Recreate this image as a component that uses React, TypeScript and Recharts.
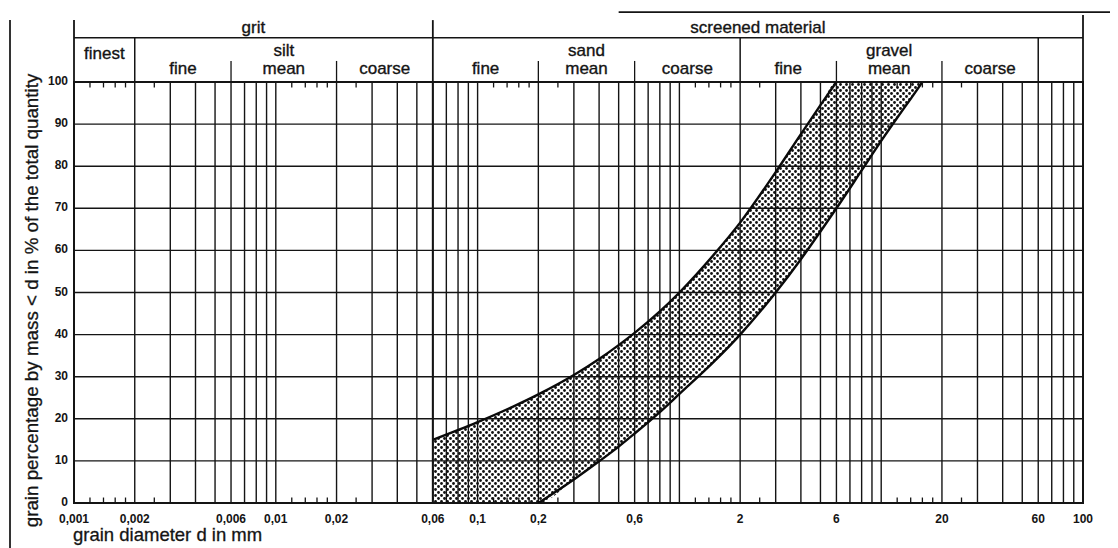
import React from 'react';
import {
  ComposedChart,
  Area,
  Line,
  XAxis,
  YAxis,
  CartesianGrid,
  ReferenceLine,
  ReferenceDot,
  ReferenceArea,
} from 'recharts';

// ---------- data ----------
// upper (fine-side) boundary of the grading band: grain diameter d [mm] -> % passing
const upperD = [0.06, 0.1, 0.15, 0.2, 0.3, 0.4, 0.5, 0.6, 0.8, 1, 1.5, 2, 3, 4, 5, 6];
const upperPct = [15, 19.2, 22.9, 25.8, 30.4, 34.2, 37.5, 40.4, 45.5, 50, 59.3, 66.6, 78.6, 87.6, 94.5, 100];

// lower (coarse-side) boundary of the grading band
const lowerD = [0.2, 0.3, 0.4, 0.5, 0.6, 0.8, 1, 1.5, 2, 3, 4, 5, 6, 8, 10, 12, 14, 16];
const lowerPct = [0, 5.6, 9.9, 13.4, 16.5, 21.6, 25.9, 33.8, 40, 50, 57.9, 64.5, 70, 79, 86, 91.5, 96, 100];

// axes
const xTickLabels = [0.001, 0.002, 0.006, 0.01, 0.02, 0.06, 0.1, 0.2, 0.6, 2, 6, 20, 60, 100];
const yTicks = [0, 10, 20, 30, 40, 50, 60, 70, 80, 90, 100];
const decades = [0.001, 0.01, 0.1, 1, 10];
const gridMultipliers = [1, 2, 3, 4, 5, 6, 7, 8, 9];
const shortTickMultipliers = [1.2, 1.4, 1.6, 1.8, 2.5];

// header (classification of grain sizes)
const headerGroups = [
  { label: 'grit', from: 0.001, to: 0.06 },
  { label: 'screened material', from: 0.06, to: 100 },
];
const headerClasses = [
  { label: 'finest', from: 0.001, to: 0.002 },
  { label: 'silt', from: 0.006, to: 0.02 },
  { label: 'sand', from: 0.2, to: 0.6 },
  { label: 'gravel', from: 6, to: 20 },
];
const headerSubs = [
  { label: 'fine', from: 0.002, to: 0.006 },
  { label: 'mean', from: 0.006, to: 0.02 },
  { label: 'coarse', from: 0.02, to: 0.06 },
  { label: 'fine', from: 0.06, to: 0.2 },
  { label: 'mean', from: 0.2, to: 0.6 },
  { label: 'coarse', from: 0.6, to: 2 },
  { label: 'fine', from: 2, to: 6 },
  { label: 'mean', from: 6, to: 20 },
  { label: 'coarse', from: 20, to: 60 },
];
const fullDividers = [0.002, 2, 60];
const shortDividers = [0.006, 0.02, 0.2, 0.6, 6, 20];
const frameVerticals = [
  { d: 0.001, top: 114.7 },
  { d: 0.06, top: 114.7 },
  { d: 100, top: 115.9 },
];

// header levels, expressed on the % scale (above 100 = above the plot)
const GROUP_LABEL_Y = 113.0;
const GROUP_LINE_Y = 110.5;
const CLASS_LABEL_Y = 107.4;
const FINEST_LABEL_Y = 106.7;
const SUB_LABEL_Y = 103.1;
const SHORT_DIVIDER_TOP = 105;
const OVERLINE_Y = 116.6;
const OVERLINE_FROM = 0.5;
const OVERLINE_TO = 150;

// ---------- helpers ----------
const FONT = '"Liberation Sans", Arial, Helvetica, sans-serif';
const INK = '#141414';
const clean = (v: number) => parseFloat(v.toPrecision(6));
const gridValues = [...decades.flatMap((d) => gridMultipliers.map((m) => clean(m * d))), 100];
const shortTicks = decades.flatMap((d) => shortTickMultipliers.map((m) => clean(m * d)));
const isLabeled = (v: number) => xTickLabels.some((t) => Math.abs(Math.log10(t / v)) < 1e-6);
const fmt = (v: number) => String(v).replace('.', ',');
const geo = (a: number, b: number) => Math.sqrt(a * b);

const lowerAt = (d: number) => {
  const i = lowerD.findIndex((x) => Math.abs(x - d) < 1e-9);
  return i >= 0 ? lowerPct[i] : d < lowerD[0] ? 0 : 100;
};
const upperAt = (d: number) => {
  const i = upperD.findIndex((x) => Math.abs(x - d) < 1e-9);
  return i >= 0 ? upperPct[i] : d > upperD[upperD.length - 1] ? 100 : 0;
};
const bandD = Array.from(new Set([...upperD, ...lowerD])).sort((a, b) => a - b);
const bandData = bandD.map((d) => ({ d, band: [lowerAt(d), upperAt(d)] }));
const upperData = upperD.map((d, i) => ({ d, pct: upperPct[i] }));
const lowerData = lowerD.map((d, i) => ({ d, pct: lowerPct[i] }));

const XTick = (props: any) => {
  const { x, y, payload } = props;
  if (!isLabeled(payload.value)) return <g />;
  return (
    <text x={x} y={y + 20} textAnchor="middle" fontFamily={FONT} fontWeight="bold" fontSize={12} fill={INK}>
      {fmt(payload.value)}
    </text>
  );
};
const YTickLeft = (props: any) => {
  const { x, y, payload } = props;
  return (
    <text x={x - 6} y={y + 3} textAnchor="end" fontFamily={FONT} fontWeight="bold" fontSize={12} fill={INK}>
      {payload.value}
    </text>
  );
};
const YTickRight = (props: any) => {
  const { x, y, payload } = props;
  return (
    <text x={x + 18} y={y + 6} textAnchor="middle" fontFamily={FONT} fontWeight="bold" fontSize={12} fill={INK}>
      {payload.value}
    </text>
  );
};

const textShape = (label: string, size: number) => (p: any) => (
  <text
    x={p.cx}
    y={p.cy}
    textAnchor="middle"
    dominantBaseline="central"
    fontFamily={FONT}
    fontSize={size}
    fill={INK}
    stroke={INK}
    strokeWidth={0.35}
  >
    {label}
  </text>
);

const seg = (x1: number, y1: number, x2: number, y2: number, key: string, w = 1.5) => (
  <ReferenceLine
    key={key}
    yAxisId="left"
    segment={[{ x: x1, y: y1 }, { x: x2, y: y2 }]}
    stroke={INK}
    strokeWidth={w}
    ifOverflow="visible"
  />
);

export default function App() {
  return (
    <div style={{ position: 'relative', width: 1110, height: 540 }}>
      <div style={{ position: 'absolute', left: 1, top: 12, bottom: 0, width: 1.5, background: '#333' }} />
      <ComposedChart
        width={1110}
        height={540}
        data={bandData}
        margin={{ top: 74, right: 0, bottom: 5, left: 0 }}
        style={{ fontFamily: FONT }}
      >
        <defs>
          <pattern id="stipple" width="6" height="6" patternUnits="userSpaceOnUse">
            <circle cx="1.5" cy="1.5" r="1.4" fill="#111" />
            <circle cx="4.5" cy="4.5" r="1.4" fill="#111" />
          </pattern>
        </defs>
        <CartesianGrid yAxisId="left" stroke={INK} strokeWidth={1.4} />
        <XAxis
          dataKey="d"
          type="number"
          scale="log"
          domain={[0.001, 100]}
          allowDataOverflow
          ticks={gridValues}
          interval={0}
          tick={<XTick />}
          tickLine={false}
          axisLine={false}
          tickSize={0}
          tickMargin={0}
          height={40}
          label={{
            content: (p: any) => (
              <text
                x={p.viewBox.x - 1}
                y={p.viewBox.y + 38}
                textAnchor="start"
                fontFamily={FONT}
                fontSize={18.5}
                fill={INK}
                stroke={INK}
                strokeWidth={0.3}
              >
                grain diameter d in mm
              </text>
            ),
          }}
        />
        <YAxis
          yAxisId="left"
          type="number"
          domain={[0, 100]}
          allowDataOverflow
          ticks={yTicks}
          interval={0}
          width={66}
          tick={<YTickLeft />}
          tickLine={false}
          axisLine={false}
          tickSize={0}
          tickMargin={0}
          label={{
            content: (p: any) => {
              const cx = p.viewBox.x + 23;
              const cy = p.viewBox.y + p.viewBox.height / 2 + 8;
              return (
                <text
                  x={cx}
                  y={cy}
                  transform={`rotate(-90, ${cx}, ${cy})`}
                  textAnchor="middle"
                  dominantBaseline="central"
                  fontFamily={FONT}
                  fontSize={18.8}
                  fill={INK}
                  stroke={INK}
                  strokeWidth={0.3}
                >
                  grain percentage by mass &lt; d in % of the total quantity
                </text>
              );
            },
          }}
        />
        <YAxis
          yAxisId="right"
          orientation="right"
          type="number"
          domain={[0, 100]}
          reversed
          ticks={yTicks}
          interval={0}
          width={35}
          tick={<YTickRight />}
          tickLine={false}
          axisLine={false}
          tickSize={0}
          tickMargin={0}
        />

        <Area
          yAxisId="left"
          dataKey="band"
          type="monotone"
          stroke="none"
          fill="url(#stipple)"
          fillOpacity={1}
          isAnimationActive={false}
          activeDot={false}
        />
        <Line
          yAxisId="left"
          data={upperData}
          dataKey="pct"
          type="monotone"
          stroke="#0a0a0a"
          strokeWidth={2.4}
          dot={false}
          activeDot={false}
          isAnimationActive={false}
        />
        <Line
          yAxisId="left"
          data={lowerData}
          dataKey="pct"
          type="monotone"
          stroke="#0a0a0a"
          strokeWidth={2.4}
          dot={false}
          activeDot={false}
          isAnimationActive={false}
        />

        <ReferenceArea
          yAxisId="left"
          x1={0.001}
          x2={100}
          y1={0}
          y2={100}
          fill="none"
          stroke={INK}
          strokeWidth={2}
          ifOverflow="visible"
        />
        {seg(0.06, 0, 0.06, 100, 'silt-sand', 2)}

        {shortTicks.map((d) => seg(d, 0, d, 1.3, `sb-${d}`, 1.3))}
        {shortTicks.map((d) => seg(d, 98.7, d, 100, `st-${d}`, 1.3))}

        {/* header frame */}
        {frameVerticals.map((f) => seg(f.d, 100, f.d, f.top, `fv-${f.d}`, 1.8))}
        {seg(0.001, GROUP_LINE_Y, 100, GROUP_LINE_Y, 'group-line', 1.6)}
        {seg(OVERLINE_FROM, OVERLINE_Y, OVERLINE_TO, OVERLINE_Y, 'overline', 1.8)}
        {fullDividers.map((d) => seg(d, 100, d, GROUP_LINE_Y, `fd-${d}`, 1.5))}
        {shortDividers.map((d) => seg(d, 100, d, SHORT_DIVIDER_TOP, `sd-${d}`, 1.3))}

        {headerGroups.map((g) => (
          <ReferenceDot
            key={`hg-${g.label}`}
            yAxisId="left"
            x={geo(g.from, g.to)}
            y={GROUP_LABEL_Y}
            r={0}
            ifOverflow="visible"
            shape={textShape(g.label, 17)}
          />
        ))}
        {headerClasses.map((c) => (
          <ReferenceDot
            key={`hc-${c.label}`}
            yAxisId="left"
            x={geo(c.from, c.to)}
            y={c.label === 'finest' ? FINEST_LABEL_Y : CLASS_LABEL_Y}
            r={0}
            ifOverflow="visible"
            shape={textShape(c.label, 17)}
          />
        ))}
        {headerSubs.map((s) => (
          <ReferenceDot
            key={`hs-${s.from}`}
            yAxisId="left"
            x={geo(s.from, s.to)}
            y={SUB_LABEL_Y}
            r={0}
            ifOverflow="visible"
            shape={textShape(s.label, 17)}
          />
        ))}
      </ComposedChart>
    </div>
  );
}
